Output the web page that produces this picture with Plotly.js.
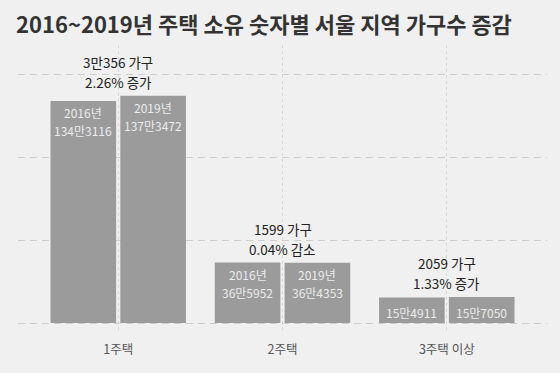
<!DOCTYPE html>
<html>
<head>
<meta charset="utf-8">
<script src="https://cdn.plot.ly/plotly-3.0.1.min.js"></script>
<style>html,body{margin:0;padding:0;background:#f0f0f0;}#chart{width:560px;height:373px;}</style>
</head>
<body>
<div id="chart"></div>
<script>
const categories = ["1주택", "2주택", "3주택 이상"];
const values2016 = [1343116, 365952, 154911];
const values2019 = [1373472, 364353, 157050];
const showYear = [true, true, false];
const changeLabels = ["3만356 가구", "1599 가구", "2059 가구"];
const rateLabels = ["2.26% 증가", "0.04% 감소", "1.33% 증가"];
const yTicks = [0, 500000, 1000000, 1500000];

function man(v) {
  const m = Math.floor(v / 10000), r = v % 10000;
  return (m > 0 ? m + "만" : "") + r;
}

const idx = categories.map((c, i) => i);
const barColor = "#9b9b9b";
const font = "'Noto Sans CJK KR', 'Noto Sans', sans-serif";

const traces = [
  {type: "bar", name: "2016", x: idx, y: values2016, marker: {color: barColor}, hoverinfo: "none"},
  {type: "bar", name: "2019", x: idx, y: values2019, marker: {color: barColor}, hoverinfo: "none"}
];

const off = 0.2125;
const annotations = [];
function ann(x, y, text, yshift, size, color) {
  annotations.push({x: x, y: y, xref: "x", yref: "y", text: text, showarrow: false,
    yanchor: "middle", yshift: yshift, font: {family: font, size: size, color: color}});
}
idx.forEach(i => {
  [[values2016, "2016년", -off], [values2019, "2019년", off]].forEach(([vals, yr, dx]) => {
    if (showYear[i]) {
      ann(i + dx, vals[i], yr, -12, 12, "#ececec");
      ann(i + dx, vals[i], man(vals[i]), -30, 12, "#ececec");
    } else {
      ann(i + dx, vals[i], man(vals[i]), -15, 12, "#ececec");
    }
  });
  const top = Math.max(values2016[i], values2019[i]);
  ann(i, top, changeLabels[i], 34, 13.5, "#222");
  ann(i, top, rateLabels[i], 14, 13.5, "#222");
});

const layout = {
  width: 560, height: 373,
  margin: {l: 18, r: 13, t: 45, b: 41},
  paper_bgcolor: "#f0f0f0", plot_bgcolor: "#f0f0f0",
  showlegend: false,
  barmode: "group", bargap: 0.15, bargroupgap: 0.06,
  title: {
    text: "2016~2019년 주택 소유 숫자별 서울 지역 가구수 증감",
    x: 16 / 560, xref: "container", xanchor: "left",
    y: 1 - 25 / 373, yref: "container", yanchor: "middle",
    font: {family: font, size: 22, color: "#333", weight: "bold"}
  },
  xaxis: {
    range: [-0.61, 2.61], tickvals: idx, ticktext: categories,
    showgrid: true, gridcolor: "#d6d6d6", griddash: "dot", gridwidth: 1,
    zeroline: false, showline: false, ticks: "", ticklabelstandoff: 8,
    tickfont: {family: font, size: 12.5, color: "#555"},
    fixedrange: true
  },
  yaxis: {
    range: [-54000, 1681000], tickvals: yTicks, showticklabels: false,
    showgrid: true, gridcolor: "#cdcdcd", griddash: "7px,5px", gridwidth: 1,
    zeroline: false, showline: false, ticks: "",
    fixedrange: true
  },
  annotations: annotations
};

Plotly.newPlot("chart", traces, layout, {displayModeBar: false, staticPlot: true});
</script>
</body>
</html>
